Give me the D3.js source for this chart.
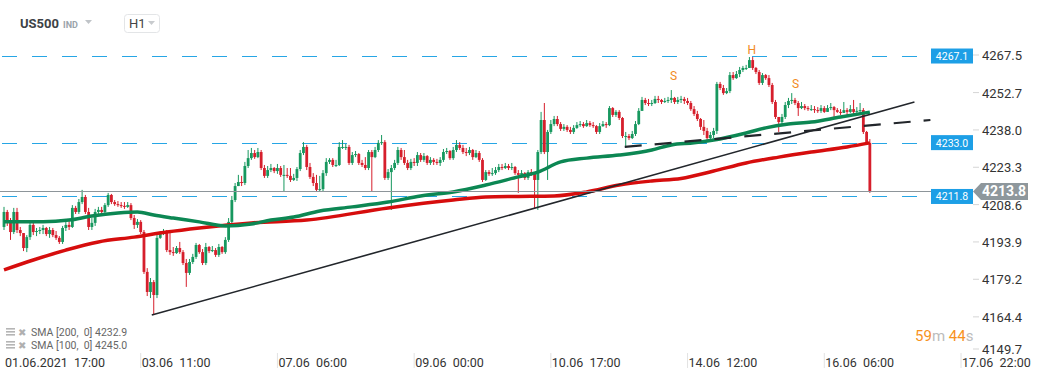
<!DOCTYPE html>
<html>
<head>
<meta charset="utf-8">
<script src="https://cdnjs.cloudflare.com/ajax/libs/d3/7.8.5/d3.min.js"></script>
<style>
  body { margin: 0; background: #fff; }
  svg { display: block; font-family: Roboto, Arial, sans-serif; }
</style>
</head>
<body>
<div id="chart"></div>
<script>
var width = 1041, height = 380;

// hourly candles, open of each bar = close of the previous one
var firstOpen = 4199.8;
var closes = [
  4205.7, 4201.8, 4197.8, 4205.7, 4198.6, 4197.4, 4191.5, 4195.8, 4200.6, 4197.8,
  4198.2, 4198.6, 4199.4, 4197.0, 4198.6, 4196.6, 4195.5, 4193.9, 4199.4, 4200.6,
  4199.8, 4207.3, 4205.7, 4209.6, 4211.6, 4205.7, 4199.8, 4201.4, 4205.7, 4206.5,
  4205.7, 4208.4, 4212.4, 4209.6, 4208.8, 4208.4, 4208.1, 4207.7, 4208.4, 4203.3,
  4200.6, 4201.8, 4197.8, 4182.1, 4174.2, 4178.1, 4173.0, 4195.5, 4197.4, 4197.8,
  4190.7, 4189.9, 4189.5, 4191.5, 4189.9, 4185.6, 4181.7, 4186.0, 4188.0, 4192.7,
  4189.9, 4185.6, 4191.9, 4190.3, 4190.7, 4188.8, 4191.9, 4189.9, 4194.7, 4201.8,
  4210.4, 4215.9, 4217.5, 4217.1, 4223.8, 4226.9, 4228.9, 4227.3, 4229.3, 4223.0,
  4219.9, 4222.2, 4223.0, 4221.8, 4223.0, 4220.3, 4220.3, 4219.9, 4218.3, 4219.1,
  4222.6, 4228.9, 4231.3, 4223.4, 4219.5, 4217.1, 4214.4, 4214.7, 4221.0, 4225.4,
  4226.2, 4224.2, 4224.2, 4231.3, 4231.3, 4231.3, 4225.0, 4228.1, 4228.5, 4225.0,
  4224.2, 4223.0, 4229.3, 4227.3, 4230.1, 4232.9, 4233.2, 4219.1, 4221.4, 4223.0,
  4225.0, 4230.1, 4227.3, 4225.0, 4223.0, 4225.4, 4225.0, 4228.1, 4226.2, 4227.7,
  4225.0, 4226.2, 4225.4, 4225.0, 4226.2, 4229.3, 4229.7, 4226.9, 4230.1, 4232.1,
  4230.9, 4229.3, 4228.9, 4230.1, 4227.3, 4228.9, 4226.2, 4218.3, 4221.4, 4220.7,
  4221.0, 4222.2, 4223.4, 4223.0, 4223.8, 4223.0, 4223.4, 4221.0, 4220.3, 4221.0,
  4219.1, 4221.4, 4221.0, 4218.3, 4229.3, 4241.9, 4229.3, 4237.2, 4240.3, 4242.3,
  4240.3, 4238.4, 4239.2, 4238.0, 4237.2, 4238.8, 4239.9, 4240.3, 4239.5, 4240.7,
  4239.9, 4239.5, 4237.2, 4239.5, 4240.3, 4239.9, 4246.6, 4243.9, 4245.1, 4242.7,
  4235.6, 4235.6, 4234.8, 4236.4, 4240.3, 4245.5, 4249.8, 4248.6, 4248.2, 4248.6,
  4250.2, 4249.8, 4249.0, 4249.4, 4249.8, 4250.6, 4249.0, 4249.8, 4250.2, 4249.4,
  4248.6, 4246.2, 4244.3, 4242.3, 4239.2, 4237.6, 4234.8, 4236.0, 4237.6, 4256.1,
  4254.5, 4252.5, 4253.3, 4259.6, 4258.4, 4260.0, 4261.6, 4262.4, 4262.4, 4265.5,
  4262.4, 4260.8, 4256.5, 4259.6, 4258.4, 4255.7, 4249.0, 4243.1, 4241.1, 4243.1,
  4247.8, 4249.4, 4249.8, 4248.6, 4246.6, 4247.4, 4246.6, 4246.2, 4246.2, 4245.8,
  4245.5, 4246.6, 4245.1, 4246.6, 4247.0, 4245.8, 4245.1, 4244.7, 4245.8, 4245.1,
  4246.2, 4245.1, 4245.5, 4245.8, 4237.2, 4232.9, 4213.8
];
var highs = [
  4207.7, 4206.5, 4203.3, 4207.3, 4207.3, 4199.8, 4195.5, 4196.6, 4201.8, 4201.4,
  4199.4, 4199.8, 4200.6, 4199.8, 4199.8, 4199.4, 4198.2, 4196.2, 4200.2, 4201.8,
  4202.1, 4208.4, 4208.1, 4210.8, 4214.4, 4212.4, 4207.3, 4203.3, 4206.9, 4207.7,
  4207.7, 4209.2, 4213.2, 4212.8, 4210.4, 4210.0, 4209.6, 4209.6, 4209.6, 4209.2,
  4204.5, 4202.9, 4202.5, 4198.6, 4183.6, 4179.7, 4178.9, 4197.0, 4198.2, 4199.0,
  4198.6, 4197.8, 4191.9, 4192.3, 4193.9, 4190.7, 4187.2, 4187.2, 4189.2, 4193.5,
  4193.1, 4191.1, 4193.5, 4192.3, 4192.3, 4191.5, 4193.1, 4192.3, 4195.8, 4203.3,
  4212.0, 4217.1, 4220.3, 4219.9, 4225.4, 4230.1, 4230.9, 4230.1, 4230.9, 4230.1,
  4224.2, 4223.8, 4224.6, 4223.4, 4224.6, 4223.8, 4224.2, 4223.0, 4223.0, 4220.7,
  4223.4, 4230.1, 4233.2, 4232.1, 4225.0, 4221.0, 4220.3, 4219.9, 4222.2, 4226.9,
  4226.9, 4226.9, 4226.2, 4233.2, 4234.0, 4232.5, 4232.1, 4229.3, 4229.7, 4228.9,
  4226.2, 4227.3, 4230.1, 4230.1, 4231.3, 4234.0, 4236.0, 4234.0, 4222.6, 4224.2,
  4226.2, 4231.3, 4230.9, 4230.1, 4226.2, 4226.6, 4226.9, 4229.3, 4228.9, 4228.9,
  4228.1, 4227.3, 4226.9, 4226.6, 4227.3, 4230.5, 4230.9, 4230.1, 4231.3, 4234.0,
  4233.2, 4232.1, 4230.9, 4231.3, 4230.5, 4230.1, 4229.7, 4226.9, 4222.2, 4222.2,
  4223.0, 4223.4, 4224.6, 4224.6, 4225.0, 4224.6, 4225.0, 4223.8, 4222.2, 4222.2,
  4221.4, 4222.2, 4222.6, 4221.4, 4230.1, 4245.1, 4248.6, 4238.0, 4241.9, 4243.5,
  4243.5, 4241.1, 4240.3, 4239.9, 4239.2, 4239.9, 4241.1, 4241.5, 4241.1, 4241.9,
  4241.5, 4241.1, 4239.9, 4240.7, 4241.5, 4241.1, 4247.4, 4247.0, 4245.8, 4245.8,
  4243.1, 4237.2, 4236.4, 4237.6, 4241.5, 4246.6, 4251.0, 4250.6, 4250.2, 4249.8,
  4251.4, 4251.4, 4250.2, 4250.6, 4251.0, 4253.7, 4251.0, 4251.0, 4251.4, 4251.0,
  4250.6, 4249.4, 4247.4, 4245.5, 4242.7, 4241.9, 4238.8, 4237.2, 4238.8, 4256.9,
  4256.9, 4255.7, 4254.5, 4260.8, 4260.8, 4261.2, 4262.8, 4263.2, 4263.6, 4266.7,
  4266.7, 4262.8, 4261.6, 4260.4, 4260.0, 4259.6, 4256.5, 4249.8, 4243.1, 4244.3,
  4249.0, 4250.6, 4252.5, 4250.6, 4249.4, 4249.0, 4248.2, 4247.4, 4247.8, 4247.4,
  4247.0, 4247.8, 4247.4, 4247.8, 4248.6, 4247.4, 4246.6, 4246.2, 4249.0, 4246.6,
  4247.8, 4249.8, 4247.0, 4248.6, 4246.6, 4237.6, 4234.4
];
var lows = [
  4198.6, 4200.2, 4194.7, 4197.0, 4197.4, 4196.2, 4190.3, 4189.9, 4194.7, 4196.6,
  4196.2, 4197.0, 4197.0, 4196.2, 4195.5, 4195.8, 4194.7, 4193.1, 4193.1, 4198.2,
  4198.6, 4199.4, 4204.9, 4204.9, 4208.8, 4204.9, 4198.6, 4198.6, 4200.2, 4204.9,
  4204.5, 4204.9, 4207.7, 4208.8, 4208.1, 4207.7, 4207.3, 4206.9, 4207.3, 4202.5,
  4199.0, 4199.4, 4197.0, 4181.3, 4172.6, 4171.8, 4165.1, 4171.8, 4195.1, 4196.6,
  4189.9, 4188.8, 4188.4, 4189.2, 4189.2, 4184.8, 4176.2, 4180.9, 4185.2, 4187.2,
  4189.2, 4184.8, 4184.8, 4189.5, 4189.9, 4188.0, 4188.0, 4189.2, 4189.2, 4193.9,
  4201.0, 4209.6, 4216.3, 4215.9, 4216.3, 4223.0, 4226.2, 4226.6, 4226.9, 4222.2,
  4219.1, 4219.1, 4221.4, 4221.0, 4220.7, 4219.5, 4213.6, 4219.1, 4217.5, 4217.9,
  4217.9, 4221.8, 4228.1, 4222.2, 4218.7, 4215.9, 4213.6, 4213.6, 4213.6, 4219.9,
  4224.6, 4223.4, 4223.4, 4223.8, 4230.5, 4230.1, 4224.2, 4224.2, 4227.3, 4224.2,
  4223.4, 4222.2, 4222.2, 4213.6, 4226.9, 4229.3, 4232.1, 4218.3, 4218.3, 4206.5,
  4222.2, 4224.2, 4226.2, 4224.2, 4222.2, 4222.2, 4223.8, 4223.8, 4225.4, 4225.4,
  4224.2, 4224.2, 4224.2, 4224.2, 4223.8, 4225.4, 4228.5, 4226.2, 4226.2, 4229.3,
  4230.1, 4228.5, 4227.7, 4228.1, 4226.2, 4226.9, 4225.4, 4217.5, 4217.9, 4219.9,
  4219.9, 4220.3, 4221.4, 4222.2, 4222.6, 4222.2, 4222.2, 4220.3, 4213.2, 4219.9,
  4218.3, 4218.3, 4219.9, 4207.3, 4206.5, 4228.5, 4228.5, 4218.3, 4236.4, 4239.5,
  4239.5, 4237.6, 4237.6, 4237.2, 4236.4, 4236.4, 4238.4, 4239.2, 4238.8, 4239.2,
  4239.2, 4238.8, 4236.4, 4236.4, 4239.2, 4238.8, 4239.5, 4243.1, 4243.1, 4241.9,
  4234.8, 4230.9, 4234.0, 4234.4, 4235.6, 4239.9, 4245.5, 4247.8, 4247.4, 4247.4,
  4248.2, 4248.6, 4248.2, 4248.6, 4248.6, 4248.6, 4248.2, 4248.2, 4248.6, 4248.2,
  4247.8, 4245.5, 4243.5, 4241.5, 4238.0, 4236.0, 4234.0, 4234.0, 4234.8, 4236.4,
  4253.7, 4251.8, 4252.1, 4252.5, 4257.7, 4258.1, 4258.8, 4260.8, 4261.6, 4262.4,
  4261.6, 4260.0, 4255.7, 4255.7, 4257.7, 4254.9, 4248.2, 4242.3, 4237.2, 4240.3,
  4242.3, 4246.6, 4248.2, 4247.8, 4243.5, 4246.2, 4245.8, 4245.5, 4245.5, 4244.7,
  4244.7, 4244.7, 4244.7, 4245.1, 4245.8, 4243.1, 4244.7, 4243.9, 4244.7, 4243.9,
  4244.7, 4244.3, 4244.7, 4244.7, 4236.4, 4232.1, 4213.2
];

// moving averages read at some bars: [bar index, value]
var sma100 = [
  [0, 4201.8], [12, 4201.8], [20, 4202.5], [27, 4204.1], [35, 4205.3], [41, 4205.7],
  [46, 4204.5], [52, 4203.3], [60, 4201.8], [68, 4200.2], [76, 4201.0], [82, 4202.5],
  [89, 4203.7], [97, 4206.1], [107, 4207.7], [118, 4209.6], [128, 4212.0], [138, 4213.6],
  [148, 4216.3], [158, 4219.5], [164, 4221.4], [171, 4225.4], [179, 4226.9], [189, 4228.1],
  [199, 4230.1], [205, 4232.1], [212, 4232.9], [218, 4234.0], [228, 4236.8], [234, 4238.8],
  [241, 4240.3], [248, 4241.1], [257, 4243.1], [266, 4245.0]
];
var sma200 = [
  [0, 4182.9], [9, 4186.8], [19, 4190.7], [29, 4193.9], [40, 4195.8], [50, 4197.8],
  [60, 4199.4], [76, 4201.4], [93, 4202.5], [118, 4207.3], [138, 4210.4], [148, 4211.6],
  [158, 4211.8], [169, 4212.0], [179, 4213.6], [189, 4216.3], [199, 4217.9], [208, 4218.9],
  [218, 4221.8], [228, 4225.0], [238, 4227.3], [248, 4229.3], [259, 4231.3], [266, 4232.9]
];

var levels = [4267.1, 4233.0, 4211.8];
var lastPrice = 4213.8;
var trendLine = [[45.4, 4165.1], [279.7, 4249.0]];
var neckLine = [[190.7, 4231.3], [284.6, 4241.9]];
var patternMarks = [["S", 205.7, 4259.2], ["H", 229.7, 4269.5], ["S", 243.2, 4256.1]];

var priceTicks = [4267.5, 4252.7, 4238.0, 4223.3, 4208.6, 4193.9, 4179.2, 4164.4, 4149.7];
var timeTicks = [0, 42, 84, 126, 168, 210, 252, 294];
var timeLabels = ["01.06.2021  17:00", "03.06  11:00", "07.06  06:00", "09.06  00:00",
                  "10.06  17:00", "14.06  12:00", "16.06  06:00", "17.06  22:00"];

var x = d3.scaleLinear().domain([0, 294]).range([4, 961]);
var y = d3.scaleLinear().domain([4149.7, 4267.5]).range([354.2, 55]);

var svg = d3.select("#chart").append("svg")
    .attr("width", width)
    .attr("height", height);

// level lines (dashed blue)
svg.selectAll("line.level")
    .data(levels)
    .enter().append("line")
    .attr("class", "level")
    .attr("x1", 2).attr("x2", 930)
    .attr("y1", function(d){ return Math.round(y(d)) + 0.5; })
    .attr("y2", function(d){ return Math.round(y(d)) + 0.5; })
    .attr("stroke", "#27a6e5")
    .attr("stroke-width", 1.2)
    .attr("stroke-dasharray", "15,15");

// candles
var bars = closes.map(function(c, i){
    return { i: i, o: i === 0 ? firstOpen : closes[i - 1], c: c, h: highs[i], l: lows[i] };
});
var up = "#17985f", down = "#d61f2c";
var candle = svg.append("g").selectAll("g")
    .data(bars)
    .enter().append("g");
candle.append("line")
    .attr("x1", function(d){ return x(d.i); })
    .attr("x2", function(d){ return x(d.i); })
    .attr("y1", function(d){ return y(Math.max(d.h, d.o, d.c)); })
    .attr("y2", function(d){ return y(Math.min(d.l, d.o, d.c)); })
    .attr("stroke", function(d){ return d.c >= d.o ? up : down; })
    .attr("stroke-width", 1);
candle.append("rect")
    .attr("x", function(d){ return x(d.i) - 1.4; })
    .attr("width", 2.8)
    .attr("y", function(d){ return y(Math.max(d.o, d.c)); })
    .attr("height", function(d){ return Math.max(1, Math.abs(y(d.o) - y(d.c))); })
    .attr("fill", function(d){ return d.c >= d.o ? up : down; });

// moving averages
var smaLine = d3.line()
    .x(function(d){ return x(d[0]); })
    .y(function(d){ return y(d[1]); })
    .curve(d3.curveMonotoneX);
svg.append("path")
    .attr("d", smaLine(sma200))
    .attr("fill", "none")
    .attr("stroke", "#d60d0d")
    .attr("stroke-width", 3.5)
    .attr("stroke-linejoin", "round");
svg.append("path")
    .attr("d", smaLine(sma100))
    .attr("fill", "none")
    .attr("stroke", "#0c8753")
    .attr("stroke-width", 3.5)
    .attr("stroke-linejoin", "round");

// drawn trend lines
var straight = d3.line()
    .x(function(d){ return x(d[0]); })
    .y(function(d){ return y(d[1]); });
svg.append("path")
    .attr("d", straight(trendLine))
    .attr("stroke", "#22262b")
    .attr("stroke-width", 1.6)
    .attr("fill", "none");
svg.append("path")
    .attr("d", straight(neckLine))
    .attr("stroke", "#22262b")
    .attr("stroke-width", 2.2)
    .attr("stroke-dasharray", "17,13")
    .attr("fill", "none");

// head & shoulders marks
svg.selectAll("text.hs")
    .data(patternMarks)
    .enter().append("text")
    .attr("class", "hs")
    .attr("x", function(d){ return x(d[1]); })
    .attr("y", function(d){ return y(d[2]) + 4; })
    .attr("text-anchor", "middle")
    .attr("font-size", "12px")
    .attr("fill", "#f28a22")
    .text(function(d){ return d[0]; });

// last price line
svg.append("line")
    .attr("x1", 0).attr("x2", 973)
    .attr("y1", Math.round(y(lastPrice)) + 0.5)
    .attr("y2", Math.round(y(lastPrice)) + 0.5)
    .attr("stroke", "#8d959a")
    .attr("stroke-width", 1);

// level boxes
var lvl = svg.selectAll("g.lvl")
    .data(levels)
    .enter().append("g")
    .attr("class", "lvl");
lvl.append("rect")
    .attr("x", 931).attr("width", 42)
    .attr("y", function(d){ return y(d) - 7.5; })
    .attr("height", 15)
    .attr("fill", "#1d9fe6");
lvl.append("text")
    .attr("x", 952)
    .attr("y", function(d){ return y(d) + 4; })
    .attr("text-anchor", "middle")
    .attr("font-size", "10.5px")
    .attr("fill", "#fff")
    .text(function(d){ return d.toFixed(1); });

// price axis
var yt = svg.append("g").selectAll("g")
    .data(priceTicks)
    .enter().append("g");
yt.append("line")
    .attr("x1", 973).attr("x2", 979)
    .attr("y1", function(d){ return Math.min(y(d), 349); })
    .attr("y2", function(d){ return Math.min(y(d), 349); })
    .attr("stroke", "#d5d5d5");
yt.append("text")
    .attr("x", 982)
    .attr("y", function(d){ return Math.min(y(d), 349) + 5; })
    .attr("font-size", "13px")
    .attr("fill", "#333")
    .text(function(d){ return d.toFixed(1); });

// last price tag
var ly = y(lastPrice);
svg.append("path")
    .attr("d", "M973," + ly + " L981," + (ly - 8.5) + " L1028," + (ly - 8.5) +
               " L1028," + (ly + 8.5) + " L981," + (ly + 8.5) + " Z")
    .attr("fill", "#8e979c");
svg.append("text")
    .attr("x", 1004).attr("y", ly + 5)
    .attr("text-anchor", "middle")
    .attr("font-size", "14px")
    .attr("font-weight", "bold")
    .attr("fill", "#fff")
    .text(lastPrice.toFixed(1));

// time axis
var xt = svg.append("g").selectAll("g")
    .data(timeTicks)
    .enter().append("g");
xt.append("line")
    .attr("x1", function(d){ return x(d); })
    .attr("x2", function(d){ return x(d); })
    .attr("y1", 353).attr("y2", 368)
    .attr("stroke", "#e2e2e2")
    .attr("stroke-width", function(d){ return d === 0 ? 0 : 1; });
xt.append("text")
    .attr("x", function(d){ return x(d) + 1; })
    .attr("y", 367)
    .attr("font-size", "12.5px")
    .attr("fill", "#333")
    .style("white-space", "pre")
    .text(function(d, i){ return timeLabels[i]; });

// header
svg.append("text")
    .attr("x", 20).attr("y", 28)
    .attr("font-size", "13px")
    .attr("font-weight", "bold")
    .attr("fill", "#3d4246")
    .text("US500");
svg.append("text")
    .attr("x", 63).attr("y", 28)
    .attr("font-size", "9px")
    .attr("font-weight", "bold")
    .attr("fill", "#9aa3aa")
    .text("IND");
svg.append("path")
    .attr("d", "M85,20 L92,20 L88.5,24 Z")
    .attr("fill", "#c0c4c8");
svg.append("rect")
    .attr("x", 124.5).attr("y", 14.5)
    .attr("width", 35).attr("height", 18)
    .attr("rx", 3)
    .attr("fill", "#fff")
    .attr("stroke", "#e3e5e7");
svg.append("text")
    .attr("x", 129).attr("y", 28)
    .attr("font-size", "13px")
    .attr("fill", "#444")
    .text("H1");
svg.append("path")
    .attr("d", "M148,21 L155,21 L151.5,25 Z")
    .attr("fill", "#c8cbce");

// indicator legend
var legend = ["SMA [200,  0] 4232.9", "SMA [100,  0] 4245.0"];
var lg = svg.selectAll("g.legend")
    .data(legend)
    .enter().append("g")
    .attr("class", "legend")
    .attr("transform", function(d, i){ return "translate(0," + (336 + i * 13) + ")"; });
lg.append("rect").attr("x", 6).attr("y", -8).attr("width", 9).attr("height", 1.6).attr("fill", "#b5b5b5");
lg.append("rect").attr("x", 6).attr("y", -5).attr("width", 9).attr("height", 1.6).attr("fill", "#b5b5b5");
lg.append("rect").attr("x", 6).attr("y", -2).attr("width", 9).attr("height", 1.6).attr("fill", "#b5b5b5");
lg.append("text")
    .attr("x", 18).attr("y", 0)
    .attr("font-size", "10px")
    .attr("fill", "#b0b0b0")
    .text("\u2716");
lg.append("text")
    .attr("x", 31).attr("y", 0)
    .attr("font-size", "10.5px")
    .attr("fill", "#666")
    .style("white-space", "pre")
    .text(function(d){ return d; });

// countdown
var timer = svg.append("text")
    .attr("x", 915).attr("y", 341)
    .attr("font-size", "15px");
timer.append("tspan").attr("fill", "#f7921e").text("59");
timer.append("tspan").attr("fill", "#bcbcbc").text("m ");
timer.append("tspan").attr("fill", "#f7921e").text("44");
timer.append("tspan").attr("fill", "#bcbcbc").text("s");
</script>
</body>
</html>
